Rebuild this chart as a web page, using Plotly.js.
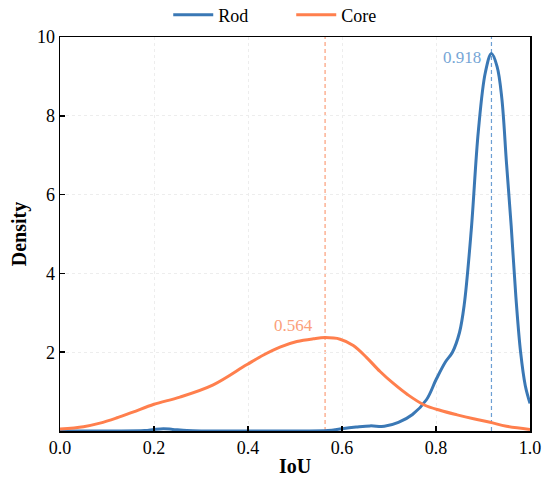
<!DOCTYPE html>
<html>
<head>
<meta charset="utf-8">
<script src="https://cdn.plot.ly/plotly-3.0.1.min.js"></script>
<style>html,body{margin:0;padding:0;background:#fff;}#chart{width:550px;height:485px;}</style>
</head>
<body>
<div id="chart"></div>
<script>
const rodX = [0,0.1,0.18,0.2,0.22,0.24,0.27,0.3,0.4,0.5,0.57,0.6,0.63,0.66,0.69,0.72,0.75,0.78,0.8,0.82,0.835,0.85,0.86,0.875,0.89,0.905,0.918,0.93,0.94,0.95,0.96,0.97,0.98,0.99,1.0];
const rodY = [0,0,0.01,0.04,0.06,0.04,0.01,0,0,0,0.01,0.06,0.1,0.13,0.12,0.22,0.42,0.8,1.3,1.75,2.0,2.5,3.2,5.1,7.6,9.1,9.58,9.25,8.45,6.8,5.2,3.4,2.0,1.15,0.7];
const coreX = [0,0.05,0.085,0.12,0.155,0.2,0.255,0.326,0.397,0.433,0.468,0.504,0.539,0.564,0.596,0.624,0.652,0.681,0.71,0.74,0.775,0.81,0.845,0.88,0.915,0.95,1.0];
const coreY = [0.05,0.11,0.2,0.33,0.48,0.68,0.86,1.17,1.68,1.93,2.13,2.27,2.34,2.37,2.33,2.17,1.87,1.51,1.2,0.92,0.66,0.52,0.41,0.31,0.22,0.12,0.04];
const seriesNames = ['Rod','Core'];
const peaks = [0.918, 0.564];
const peakY = [9.58, 2.37];
const peakLabels = ['0.918','0.564'];
const xTicks = [0,0.2,0.4,0.6,0.8,1.0];
const xTickText = ['0.0','0.2','0.4','0.6','0.8','1.0'];
const yTicks = [2,4,6,8,10];

const blue = '#3a78b5', orange = '#ff7f4d';
const blueLight = '#6c9fd3', orangeLight = '#fb9f7a';
const serif = '"Liberation Serif", serif';

const traces = [
  {x: rodX, y: rodY, name: seriesNames[0], mode: 'lines', line: {color: blue, width: 3, shape: 'spline', smoothing: 1}},
  {x: coreX, y: coreY, name: seriesNames[1], mode: 'lines', line: {color: orange, width: 3, shape: 'spline', smoothing: 1}}
];

const layout = {
  width: 550, height: 485,
  margin: {l: 60, r: 20, t: 37, b: 54, autoexpand: false},
  paper_bgcolor: '#fff', plot_bgcolor: '#fff',
  font: {family: serif, size: 16, color: '#000'},
  showlegend: true,
  legend: {orientation: 'h', x: 0.492, xanchor: 'center', y: 1.056, yanchor: 'middle', font: {family: serif, size: 18}, itemwidth: 40, entrywidth: 68, entrywidthmode: 'pixels', traceorder: 'normal'},
  xaxis: {
    range: [0, 1], tickvals: xTicks, ticktext: xTickText,
    showline: true, linecolor: '#000', linewidth: 1.5, mirror: true,
    ticks: 'inside', ticklen: 5, tickwidth: 1.5, tickcolor: '#000',
    showgrid: true, gridcolor: '#ededed', griddash: 'dot', gridwidth: 1,
    zeroline: false, tickfont: {family: serif, size: 18},
    title: {text: '<b>IoU</b>', font: {family: serif, size: 20}, standoff: 2}
  },
  yaxis: {
    range: [0, 10], tickvals: yTicks,
    showline: true, linecolor: '#000', linewidth: 1.5, mirror: true,
    ticks: 'inside', ticklen: 5, tickwidth: 1.5, tickcolor: '#000',
    showgrid: true, gridcolor: '#ededed', griddash: 'dot', gridwidth: 1,
    zeroline: false, tickfont: {family: serif, size: 18},
    title: {text: '<b>Density</b>', font: {family: serif, size: 20}, standoff: 5}
  },
  shapes: [
    {type: 'line', layer: 'below', xref: 'x', yref: 'paper', x0: peaks[0], x1: peaks[0], y0: 0, y1: 1, line: {color: blueLight, width: 1.2, dash: '4px,3px'}},
    {type: 'line', layer: 'below', xref: 'x', yref: 'paper', x0: peaks[1], x1: peaks[1], y0: 0, y1: 1, line: {color: orangeLight, width: 1.2, dash: '4px,3px'}}
  ],
  annotations: [
    {x: peaks[0], y: peakY[0], xref: 'x', yref: 'y', text: peakLabels[0], showarrow: false, xanchor: 'right', yanchor: 'bottom', xshift: -8, yshift: -15, font: {family: serif, size: 17, color: '#76a6d6'}},
    {x: peaks[1], y: peakY[1], xref: 'x', yref: 'y', text: peakLabels[1], showarrow: false, xanchor: 'right', yanchor: 'bottom', xshift: -10, yshift: 1, font: {family: serif, size: 17, color: orangeLight}}
  ]
};

Plotly.newPlot('chart', traces, layout, {displayModeBar: false, staticPlot: true});
</script>
</body>
</html>
